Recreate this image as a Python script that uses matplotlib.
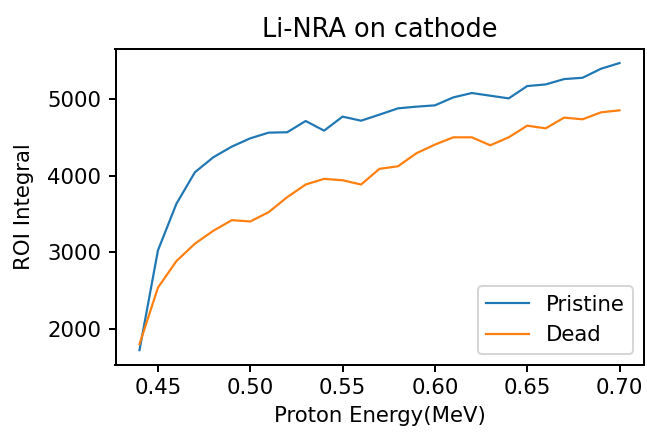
import matplotlib
matplotlib.use("Agg")
import matplotlib.pyplot as plt

energy = [0.44, 0.45, 0.46, 0.47, 0.48, 0.49, 0.50, 0.51, 0.52, 0.53, 0.54, 0.55, 0.56,
          0.57, 0.58, 0.59, 0.60, 0.61, 0.62, 0.63, 0.64, 0.65, 0.66, 0.67, 0.68, 0.69, 0.70]
pristine = [1723, 3025, 3633, 4044, 4240, 4379, 4487, 4561, 4566, 4713, 4587, 4770, 4717,
            4796, 4878, 4900, 4917, 5021, 5078, 5043, 5008, 5169, 5190, 5260, 5277, 5395, 5469]
dead = [1801, 2539, 2885, 3112, 3281, 3419, 3402, 3524, 3719, 3884, 3958, 3940, 3884,
        4089, 4122, 4292, 4405, 4500, 4500, 4396, 4500, 4652, 4617, 4757, 4735, 4826, 4852]

plt.rcParams.update({
    "font.size": 10.6,
    "axes.titlesize": 12.8,
    "axes.linewidth": 1.0,
    "xtick.major.width": 1.0,
    "ytick.major.width": 1.0,
})

dpi = 144
fig = plt.figure(figsize=(647 / dpi, 441 / dpi), dpi=dpi)
ax = fig.add_axes([115.5 / 647, 1 - 364.5 / 441, (643.5 - 115.5) / 647, (364.5 - 48.7) / 441])
ax.plot(energy, pristine, label="Pristine", lw=1.1)
ax.plot(energy, dead, label="Dead", lw=1.1)
ax.set_title("Li-NRA on cathode")
ax.set_xlabel("Proton Energy(MeV)")
ax.set_ylabel("ROI Integral", labelpad=7)
ax.legend(loc="lower right")
fig.savefig("out.png", dpi=dpi)
